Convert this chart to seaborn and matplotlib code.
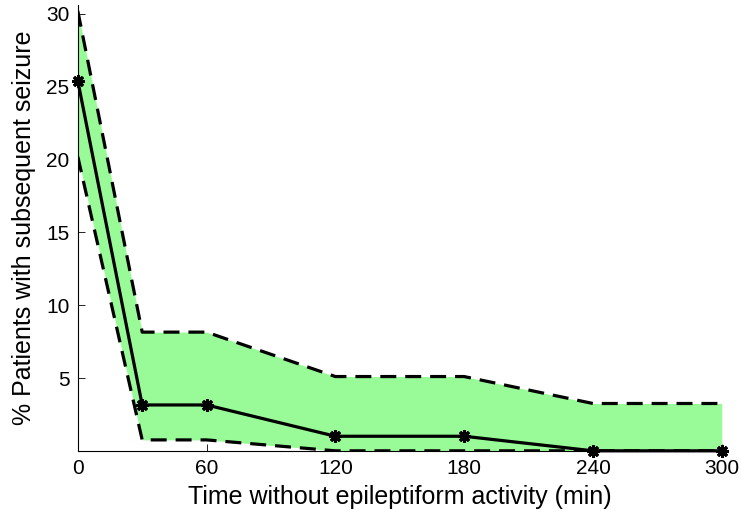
import pandas as pd
import seaborn as sns
import matplotlib.pyplot as plt

# tiempos y porcentajes
minutos = [0, 30, 60, 120, 180, 240, 300]
mediana = [25.4, 3.15, 3.15, 1.0, 1.0, 0.0, 0.0]
superior = [30.2, 8.15, 8.15, 5.1, 5.1, 3.25, 3.25]
inferior = [20.2, 0.75, 0.75, 0.0, 0.0, 0.0, 0.0]

df = pd.DataFrame({"t": minutos, "med": mediana, "sup": superior, "inf": inferior})

sns.set_style("ticks")
plt.rcParams['font.family'] = ['Liberation Sans', 'DejaVu Sans']
plt.rcParams['text.color'] = 'black'
plt.rcParams['axes.labelcolor'] = 'black'

fig = plt.figure(figsize=(7.41, 5.17), dpi=100)
ax = fig.add_axes([0.105, 0.128, 0.869, 0.862])

ax.fill_between(df["t"], df["inf"], df["sup"], color="#98fb98", linewidth=0)
guion = (0, (5, 2.8))
sns.lineplot(data=df, x="t", y="sup", ax=ax, color="black", lw=2.3, linestyle=guion)
sns.lineplot(data=df, x="t", y="inf", ax=ax, color="black", lw=2.3, linestyle=guion)
sns.lineplot(data=df, x="t", y="med", ax=ax, color="black", lw=2.3,
             marker=(8, 2, 0), markersize=9, markeredgewidth=2.2, markeredgecolor="black",
             clip_on=False, zorder=5)

ax.set_xlim(0, 300)
ax.set_ylim(0, 30.6)
ax.set_xticks([0, 60, 120, 180, 240, 300])
ax.set_yticks([5, 10, 15, 20, 25, 30])
ax.tick_params(direction="in", length=5, width=0.6, labelsize=15, colors="black", pad=6)
for s in ["top", "right"]:
    ax.spines[s].set_visible(False)
for s in ["left", "bottom"]:
    ax.spines[s].set_linewidth(0.8)
    ax.spines[s].set_color("black")

ax.set_xlabel("Time without epileptiform activity (min)", fontsize=18, labelpad=5)
ax.set_ylabel("% Patients with subsequent seizure", fontsize=18, labelpad=7)

fig.savefig("out.png", dpi=100)
